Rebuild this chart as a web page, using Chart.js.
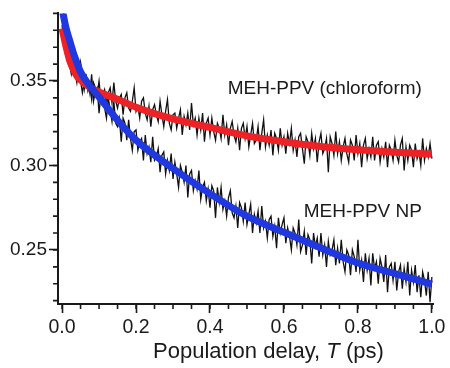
<!DOCTYPE html>
<html>
<head>
<meta charset="utf-8">
<script src="https://cdn.jsdelivr.net/npm/chart.js@4/dist/chart.umd.min.js"></script>
<style>
    body { margin: 0; background: #fff; }
    #wrap { width: 450px; height: 368px; }
</style>
</head>
<body>
<div id="wrap"><canvas id="chart"></canvas></div>
<script>
// Population delay (ps) for the measured traces
const delays = [
    0.000, 0.005, 0.010, 0.015, 0.020, 0.025, 0.030, 0.035, 0.040, 0.045,
    0.050, 0.055, 0.060, 0.065, 0.070, 0.075, 0.080, 0.085, 0.090, 0.095,
    0.100, 0.105, 0.110, 0.115, 0.120, 0.125, 0.130, 0.135, 0.140, 0.145,
    0.150, 0.155, 0.160, 0.165, 0.170, 0.175, 0.180, 0.185, 0.190, 0.195,
    0.200, 0.205, 0.210, 0.215, 0.220, 0.225, 0.230, 0.235, 0.240, 0.245,
    0.250, 0.255, 0.260, 0.265, 0.270, 0.275, 0.280, 0.285, 0.290, 0.295,
    0.300, 0.305, 0.310, 0.315, 0.320, 0.325, 0.330, 0.335, 0.340, 0.345,
    0.350, 0.355, 0.360, 0.365, 0.370, 0.375, 0.380, 0.385, 0.390, 0.395,
    0.400, 0.405, 0.410, 0.415, 0.420, 0.425, 0.430, 0.435, 0.440, 0.445,
    0.450, 0.455, 0.460, 0.465, 0.470, 0.475, 0.480, 0.485, 0.490, 0.495,
    0.500, 0.505, 0.510, 0.515, 0.520, 0.525, 0.530, 0.535, 0.540, 0.545,
    0.550, 0.555, 0.560, 0.565, 0.570, 0.575, 0.580, 0.585, 0.590, 0.595,
    0.600, 0.605, 0.610, 0.615, 0.620, 0.625, 0.630, 0.635, 0.640, 0.645,
    0.650, 0.655, 0.660, 0.665, 0.670, 0.675, 0.680, 0.685, 0.690, 0.695,
    0.700, 0.705, 0.710, 0.715, 0.720, 0.725, 0.730, 0.735, 0.740, 0.745,
    0.750, 0.755, 0.760, 0.765, 0.770, 0.775, 0.780, 0.785, 0.790, 0.795,
    0.800, 0.805, 0.810, 0.815, 0.820, 0.825, 0.830, 0.835, 0.840, 0.845,
    0.850, 0.855, 0.860, 0.865, 0.870, 0.875, 0.880, 0.885, 0.890, 0.895,
    0.900, 0.905, 0.910, 0.915, 0.920, 0.925, 0.930, 0.935, 0.940, 0.945,
    0.950, 0.955, 0.960, 0.965, 0.970, 0.975, 0.980, 0.985, 0.990, 0.995,
    1.000
];

// Measured anisotropy, MEH-PPV in chloroform
const chloroformData = [
    0.383, 0.373, 0.372, 0.370, 0.360, 0.354, 0.360, 0.355, 0.349, 0.358,
    0.350, 0.343, 0.350, 0.353, 0.344, 0.347, 0.339, 0.349, 0.346, 0.342,
    0.350, 0.339, 0.342, 0.345, 0.336, 0.343, 0.346, 0.337, 0.349, 0.338,
    0.334, 0.340, 0.342, 0.330, 0.340, 0.343, 0.334, 0.332, 0.338, 0.346,
    0.332, 0.335, 0.328, 0.338, 0.340, 0.331, 0.327, 0.335, 0.323, 0.333,
    0.336, 0.330, 0.326, 0.338, 0.330, 0.323, 0.332, 0.339, 0.325, 0.321,
    0.330, 0.331, 0.322, 0.328, 0.333, 0.318, 0.329, 0.324, 0.331, 0.321,
    0.337, 0.324, 0.328, 0.318, 0.328, 0.321, 0.331, 0.314, 0.325, 0.328,
    0.318, 0.328, 0.320, 0.315, 0.325, 0.322, 0.316, 0.330, 0.318, 0.324,
    0.312, 0.322, 0.326, 0.318, 0.314, 0.322, 0.309, 0.322, 0.325, 0.316,
    0.323, 0.311, 0.318, 0.325, 0.313, 0.315, 0.323, 0.309, 0.319, 0.327,
    0.311, 0.318, 0.312, 0.321, 0.306, 0.319, 0.316, 0.309, 0.322, 0.312,
    0.317, 0.307, 0.319, 0.313, 0.322, 0.309, 0.315, 0.305, 0.317, 0.319,
    0.310, 0.301, 0.317, 0.314, 0.306, 0.319, 0.310, 0.316, 0.302, 0.314,
    0.319, 0.307, 0.310, 0.316, 0.296, 0.317, 0.313, 0.306, 0.320, 0.307,
    0.314, 0.303, 0.311, 0.316, 0.307, 0.302, 0.315, 0.312, 0.303, 0.318,
    0.307, 0.313, 0.299, 0.312, 0.316, 0.304, 0.310, 0.305, 0.317, 0.303,
    0.312, 0.314, 0.302, 0.310, 0.305, 0.314, 0.299, 0.312, 0.309, 0.303,
    0.315, 0.306, 0.302, 0.312, 0.316, 0.297, 0.311, 0.303, 0.312, 0.309,
    0.299, 0.313, 0.304, 0.308, 0.300, 0.316, 0.303, 0.310, 0.305, 0.313,
    0.304
];

// Measured anisotropy, MEH-PPV nanoparticles
const nanoparticleData = [
    0.391, 0.390, 0.378, 0.379, 0.379, 0.368, 0.361, 0.368, 0.363, 0.353,
    0.361, 0.353, 0.345, 0.353, 0.350, 0.343, 0.354, 0.338, 0.344, 0.346,
    0.331, 0.342, 0.343, 0.334, 0.328, 0.340, 0.333, 0.326, 0.338, 0.325,
    0.323, 0.328, 0.314, 0.328, 0.325, 0.315, 0.327, 0.316, 0.309, 0.320,
    0.321, 0.309, 0.314, 0.316, 0.303, 0.318, 0.307, 0.311, 0.302, 0.317,
    0.303, 0.305, 0.310, 0.296, 0.306, 0.308, 0.295, 0.303, 0.297, 0.307,
    0.292, 0.302, 0.295, 0.287, 0.300, 0.296, 0.290, 0.300, 0.281, 0.295,
    0.297, 0.285, 0.291, 0.286, 0.297, 0.280, 0.287, 0.290, 0.279, 0.286,
    0.275, 0.288, 0.285, 0.269, 0.287, 0.278, 0.287, 0.274, 0.279, 0.270,
    0.281, 0.285, 0.272, 0.269, 0.276, 0.263, 0.278, 0.275, 0.267, 0.278,
    0.265, 0.271, 0.277, 0.260, 0.271, 0.266, 0.273, 0.260, 0.276, 0.263,
    0.267, 0.257, 0.268, 0.270, 0.258, 0.264, 0.251, 0.269, 0.260, 0.265,
    0.269, 0.254, 0.263, 0.258, 0.250, 0.263, 0.260, 0.253, 0.268, 0.249,
    0.253, 0.261, 0.247, 0.259, 0.256, 0.242, 0.260, 0.252, 0.257, 0.246,
    0.260, 0.247, 0.253, 0.240, 0.255, 0.247, 0.250, 0.256, 0.241, 0.251,
    0.242, 0.256, 0.243, 0.237, 0.250, 0.247, 0.235, 0.250, 0.246, 0.237,
    0.256, 0.238, 0.244, 0.231, 0.248, 0.238, 0.245, 0.229, 0.248, 0.239,
    0.243, 0.230, 0.245, 0.240, 0.231, 0.247, 0.225, 0.240, 0.242, 0.232,
    0.243, 0.226, 0.237, 0.241, 0.227, 0.239, 0.231, 0.243, 0.223, 0.238,
    0.231, 0.241, 0.225, 0.235, 0.222, 0.237, 0.232, 0.223, 0.237, 0.219,
    0.234
];

// Fitted decays
const fitDelays = [0.00, 0.01, 0.02, 0.03, 0.04, 0.05, 0.07, 0.10, 0.15, 0.20, 0.30, 0.40, 0.50, 0.60, 0.70, 0.80, 0.90, 1.00];
const chloroformFit = [0.381, 0.371, 0.3625, 0.357, 0.353, 0.3506, 0.347, 0.3435, 0.3392, 0.3345, 0.3275, 0.3225, 0.3175, 0.314, 0.3112, 0.3093, 0.3078, 0.3067];
const nanoparticleFit = [0.393, 0.382, 0.3744, 0.367, 0.361, 0.3554, 0.3485, 0.3405, 0.3268, 0.315, 0.2982, 0.2833, 0.270, 0.2605, 0.2512, 0.2423, 0.236, 0.2298];

// Axis ticks
const xTicks = [0.0, 0.2, 0.4, 0.6, 0.8, 1.0];
const xMinorTicks = [0.00, 0.05, 0.10, 0.15, 0.20, 0.25, 0.30, 0.35, 0.40, 0.45, 0.50, 0.55, 0.60, 0.65, 0.70, 0.75, 0.80, 0.85, 0.90, 0.95, 1.00];
const yTicks = [0.25, 0.30, 0.35];
const yMinorTicks = [0.22, 0.23, 0.24, 0.25, 0.26, 0.27, 0.28, 0.29, 0.30, 0.31, 0.32, 0.33, 0.34, 0.35, 0.36, 0.37, 0.38, 0.39];

// Curve labels: text, right edge (ps), vertical centre (value)
const curveLabels = [
    { text: 'MEH-PPV (chloroform)', x: 0.973, y: 0.3455 },
    { text: 'MEH-PPV NP', x: 0.973, y: 0.2726 }
];

// Axis title, drawn in pieces so the T can be italic
const xTitleParts = [
    { text: 'Population delay, ', italic: false },
    { text: 'T', italic: true },
    { text: ' (ps)', italic: false }
];
const xTitleCenter = 0.558;

const FONT = '"Liberation Sans", Arial, Helvetica, sans-serif';
const INK = '#1a1a1a';

function toPoints(xs, ys) {
    return xs.map((x, i) => ({ x: x, y: ys[i] }));
}

// Short minor ticks, curve labels and axis title, placed through the chart scales
const extrasPlugin = {
    id: 'extras',
    afterDraw(chart) {
        const { ctx, scales: { x, y } } = chart;
        ctx.save();
        ctx.strokeStyle = INK;
        ctx.lineWidth = 1.6;
        ctx.beginPath();
        xMinorTicks.forEach(v => {
            const px = x.getPixelForValue(v);
            ctx.moveTo(px, x.top);
            ctx.lineTo(px, x.top + 5);
        });
        yMinorTicks.forEach(v => {
            const py = y.getPixelForValue(v);
            ctx.moveTo(y.right, py);
            ctx.lineTo(y.right - 5, py);
        });
        ctx.stroke();

        ctx.fillStyle = INK;
        ctx.font = `19px ${FONT}`;
        ctx.textAlign = 'right';
        ctx.textBaseline = 'middle';
        curveLabels.forEach(label => {
            ctx.fillText(label.text, x.getPixelForValue(label.x), y.getPixelForValue(label.y));
        });

        // axis title
        const fontFor = part => `${part.italic ? 'italic ' : ''}22px ${FONT}`;
        const widths = xTitleParts.map(part => {
            ctx.font = fontFor(part);
            return ctx.measureText(part.text).width;
        });
        const total = widths.reduce((a, b) => a + b, 0);
        let cursor = x.getPixelForValue(xTitleCenter) - total / 2;
        ctx.textAlign = 'left';
        xTitleParts.forEach((part, i) => {
            ctx.font = fontFor(part);
            ctx.fillText(part.text, cursor, 352);
            cursor += widths[i];
        });
        ctx.restore();
    }
};

new Chart(document.getElementById('chart'), {
    type: 'line',
    data: {
        datasets: [
            {
                data: toPoints(delays, chloroformData),
                borderColor: '#111',
                borderWidth: 1.3,
                pointRadius: 0,
                tension: 0,
                clip: 0,
                order: 3
            },
            {
                data: toPoints(delays, nanoparticleData),
                borderColor: '#111',
                borderWidth: 1.3,
                pointRadius: 0,
                tension: 0,
                clip: 0,
                order: 3
            },
            {
                data: toPoints(fitDelays, chloroformFit),
                borderColor: '#ec2226',
                borderWidth: 7,
                pointRadius: 0,
                cubicInterpolationMode: 'monotone',
                clip: 0,
                order: 2
            },
            {
                data: toPoints(fitDelays, nanoparticleFit),
                borderColor: '#2038e0',
                borderWidth: 7,
                pointRadius: 0,
                cubicInterpolationMode: 'monotone',
                clip: 0,
                order: 1
            }
        ]
    },
    options: {
        responsive: true,
        maintainAspectRatio: false,
        animation: false,
        layout: {
            padding: { top: 12, right: 17, left: 0, bottom: 0 }
        },
        plugins: {
            legend: { display: false },
            tooltip: { enabled: false }
        },
        scales: {
            x: {
                type: 'linear',
                min: -0.011,
                max: 1.003,
                afterBuildTicks: scale => { scale.ticks = xTicks.map(v => ({ value: v })); },
                afterFit: scale => { scale.height = 64; },
                border: { display: true, color: INK, width: 2 },
                grid: { drawOnChartArea: false, drawTicks: true, tickLength: 9, tickColor: INK, tickWidth: 1.6 },
                ticks: {
                    color: INK,
                    padding: 3,
                    maxRotation: 0,
                    font: { family: FONT, size: 19.5 },
                    callback: v => v.toFixed(1)
                }
            },
            y: {
                type: 'linear',
                min: 0.218,
                max: 0.390,
                afterBuildTicks: scale => { scale.ticks = yTicks.map(v => ({ value: v })); },
                afterFit: scale => { scale.width = 58; },
                border: { display: true, color: INK, width: 2 },
                grid: { drawOnChartArea: false, drawTicks: true, tickLength: 9, tickColor: INK, tickWidth: 1.6 },
                ticks: {
                    color: INK,
                    padding: 2,
                    font: { family: FONT, size: 19 },
                    callback: v => v.toFixed(2)
                }
            }
        }
    },
    plugins: [extrasPlugin]
});
</script>
</body>
</html>
